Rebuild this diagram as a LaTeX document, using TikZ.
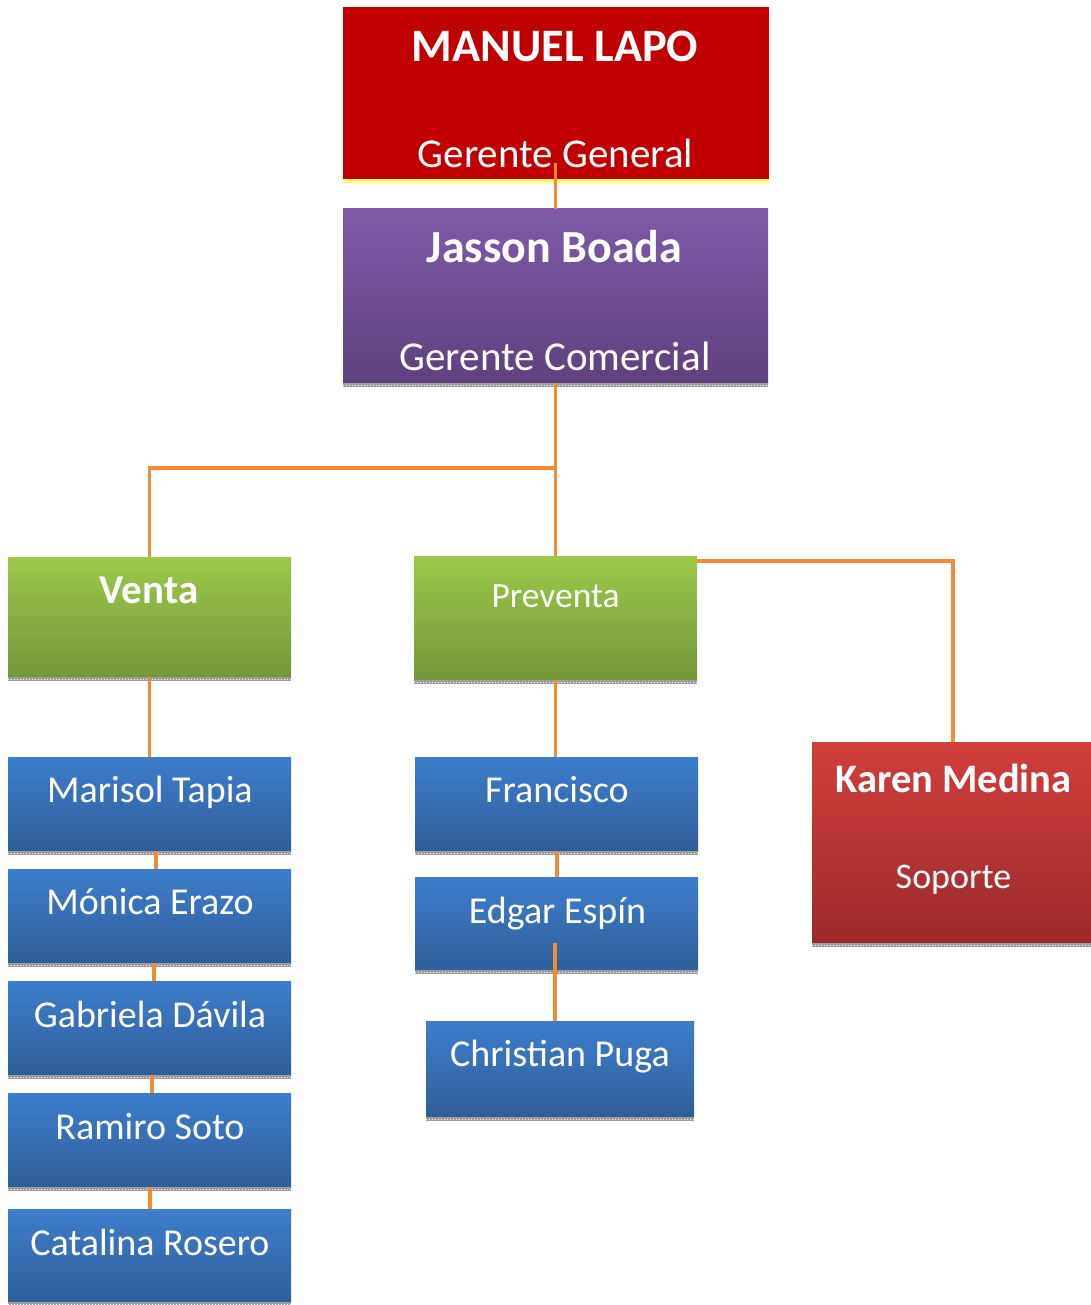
\documentclass[tikz,border=0pt]{standalone}
\usepackage{fontspec}
\setmainfont{Carlito}
\usetikzlibrary{calc}
\definecolor{topred}{HTML}{C00000}
\definecolor{purpleT}{HTML}{7E5AA8}
\definecolor{purpleB}{HTML}{5E4180}
\definecolor{greenT}{HTML}{9DC84B}
\definecolor{greenB}{HTML}{74963A}
\definecolor{blueT}{HTML}{3D7ECC}
\definecolor{blueB}{HTML}{2F5E99}
\definecolor{redT}{HTML}{D13E3B}
\definecolor{redB}{HTML}{9B2B2A}
\definecolor{linkorange}{HTML}{F38B36}
\tikzset{
  box/.style={rectangle, inner sep=0pt, outer sep=0pt, draw=none},
  purplebox/.style={box, top color=purpleT, bottom color=purpleB},
  greenbox/.style={box, top color=greenT, bottom color=greenB},
  bluebox/.style={box, top color=blueT, bottom color=blueB, minimum width=283pt, minimum height=94pt},
  redbox/.style={box, top color=redT, bottom color=redB},
  lbl/.style={inner sep=0pt, anchor=base, text=white},
  shadowstrip/.style={fill=black!38},
  conn/.style={draw=linkorange, line width=3.5pt},
}
\newcommand{\fs}[1]{\fontsize{#1}{#1}\selectfont}
\begin{document}
\begin{tikzpicture}[x=1pt, y=-1pt]
\useasboundingbox (0,0) rectangle (1091,1305);

% boxes
\node[box, fill=topred, minimum width=426pt, minimum height=172pt] (manuel) at (556,93) {};
\node[purplebox, minimum width=425pt, minimum height=174pt] (jasson) at (555.5,296) {};
\node[greenbox, minimum width=283pt, minimum height=120pt] (venta) at (149.5,617) {};
\node[greenbox, minimum width=283pt, minimum height=124pt] (preventa) at (555.5,618) {};
\node[redbox, minimum width=279pt, minimum height=201pt] (karen) at (951.5,842.5) {};
\node[bluebox] (marisol) at (149.5,804) {};
\node[bluebox] (monica) at (149.5,916) {};
\node[bluebox] (gabriela) at (149.5,1028) {};
\node[bluebox] (ramiro) at (149.5,1140) {};
\node[bluebox, minimum height=93pt] (catalina) at (149.5,1255.5) {};
\node[bluebox] (francisco) at (556.5,804) {};
\node[bluebox, minimum height=93pt] (edgar) at (556.5,923.5) {};
\node[bluebox, minimum width=268pt, minimum height=96pt] (christian) at (560,1069) {};

% dithered strips under the boxes
\fill[yellow!55!white] (manuel.south west) rectangle ($(manuel.south east)+(0,4)$);
\foreach \b in {jasson,venta,preventa,karen,marisol,monica,gabriela,ramiro,catalina,francisco,edgar,christian}{
  \fill[shadowstrip] (\b.south west) rectangle ($(\b.south east)+(0,4)$);
  \draw[white, line width=1pt, dash pattern=on 1pt off 2pt] ($(\b.south west)+(0,2)$) -- ($(\b.south east)+(0,2)$);
}

% texts
\node[lbl, font=\fs{46.5}\bfseries] (t1) at (555,62) {MANUEL LAPO};
\node[lbl, font=\fs{41}] (t2) at (555.5,168) {Gerente General};
\node[lbl, font=\fs{46}\bfseries] (t3) at (554.5,263) {Jasson Boada};
\node[lbl, font=\fs{41}] (t4) at (555,370) {Gerente Comercial};
\node[lbl, font=\fs{41}\bfseries] (t5) at (149,603) {Venta};
\node[lbl, font=\fs{35.5}] (t6) at (555.5,607) {Preventa};
\node[lbl, font=\fs{40.5}\bfseries] (t7) at (953.5,792) {Karen Medina};
\node[lbl, font=\fs{36}] (t8) at (953.5,888) {Soporte};
\node[lbl, font=\fs{38}] (t9) at (150,802) {Marisol Tapia};
\node[lbl, font=\fs{38}] (t10) at (150,914) {Mónica Erazo};
\node[lbl, font=\fs{38}] (t11) at (150,1027) {Gabriela Dávila};
\node[lbl, font=\fs{38}] (t12) at (150,1139) {Ramiro Soto};
\node[lbl, font=\fs{38}] (t13) at (150,1255) {Catalina Rosero};
\node[lbl, font=\fs{38}] (t14) at (557,802) {Francisco};
\node[lbl, font=\fs{38}] (t15) at (557.5,923) {Edgar Espín};
\node[lbl, font=\fs{38}] (t16) at (560,1066) {Christian Puga};

% connectors
\coordinate (split) at (555.5,468);
\draw[conn] ($(manuel.south)+(-0.5,-16)$) -- (jasson.north);
\draw[conn] (jasson.south) -- (split) -| (venta.north);
\draw[conn] (split) -- (preventa.north);
\draw[conn] ($(preventa.north east)+(0,5)$) -| ([xshift=1.5pt]karen.north);
\draw[conn] (venta.south) -- (marisol.north);
\draw[conn] ([xshift=6.5pt]marisol.south) -- ([xshift=6.5pt]monica.north);
\draw[conn] ([xshift=4.5pt]monica.south) -- ([xshift=4.5pt]gabriela.north);
\draw[conn] ([xshift=2.5pt]gabriela.south) -- ([xshift=2.5pt]ramiro.north);
\draw[conn] ([xshift=0.5pt]ramiro.south) -- ([xshift=0.5pt]catalina.north);
\draw[conn] (preventa.south) -- ([xshift=-1pt]francisco.north);
\draw[conn] ([xshift=0.5pt]francisco.south) -- ([xshift=0.5pt]edgar.north);
\draw[conn] ($(edgar.south)+(-1.5,-27)$) -- ([xshift=-5pt]christian.north);
\end{tikzpicture}
\end{document}
